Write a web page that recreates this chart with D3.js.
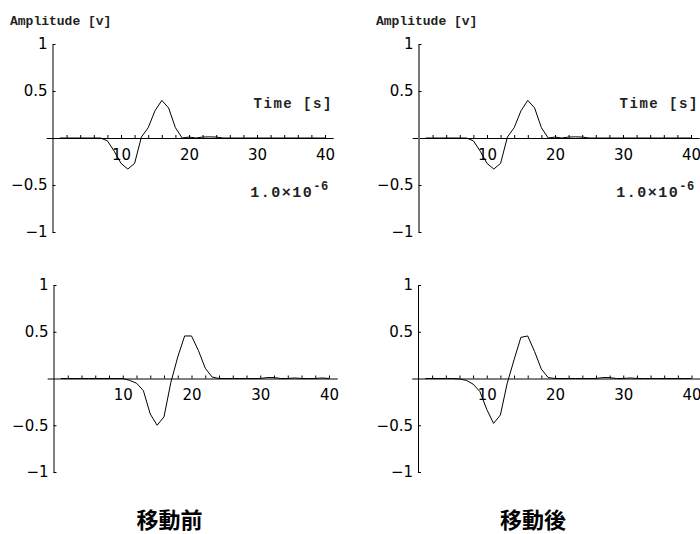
<!DOCTYPE html>
<html>
<head>
<meta charset="utf-8">
<script src="https://cdn.jsdelivr.net/npm/d3@7"></script>
<style>
    body { margin: 0; background: #fff; }
    svg { display: block; }
    .tick text { font-family: "DejaVu Sans", sans-serif; font-size: 15px; fill: #000; }
    .mono { font-family: "Liberation Mono", "DejaVu Sans Mono", monospace; font-weight: bold; fill: #222; }
</style>
</head>
<body>
<div id="chart"></div>
<script>
// Sample times (1e-6 s units) and the three recorded pulses.
const timeSteps = [1, 2, 3, 4, 5, 6, 7, 8, 9, 10, 11, 12, 13, 14, 15, 16, 17, 18, 19, 20,
    21, 22, 23, 24, 25, 26, 27, 28, 29, 30, 31, 32, 33, 34, 35, 36, 37, 38, 39, 40];

const inputPulse = [0, 0, 0, 0, 0, 0, 0, -0.03, -0.14, -0.27, -0.33, -0.27, 0.01, 0.11, 0.29, 0.40,
    0.32, 0.11, 0, 0.01, 0, 0.01, 0.012, 0.01, 0, 0, 0, 0, 0, 0, 0, 0, 0, 0, 0, 0, 0, 0, 0, 0];

const beforeMove = [0, 0, 0, 0, 0, 0, 0, 0, 0, 0, -0.02, -0.05, -0.13, -0.38, -0.50, -0.41, -0.04,
    0.23, 0.455, 0.455, 0.30, 0.11, 0.015, 0, 0, 0, 0, 0, 0, 0, 0.01, 0.01, 0, 0, 0.006, 0, 0, 0, 0.006, 0];

const afterMove = [0, 0, 0, 0, 0, -0.005, -0.02, -0.06, -0.14, -0.33, -0.48, -0.39, -0.05, 0.20, 0.44,
    0.455, 0.29, 0.10, 0.01, 0, 0, 0, 0, 0, 0, 0, 0.01, 0.01, 0, 0, 0.006, 0, 0, 0, 0, 0, 0, 0, 0, 0];

const xTickValues = [2, 4, 6, 8, 10, 12, 14, 16, 18, 20, 22, 24, 26, 28, 30, 32, 34, 36, 38, 40];
const yTickValues = [-1, -0.5, 0.5, 1];
const panelTitles = ["移動前", "移動後"];

const WIDTH = 700;
const HEIGHT = 534;

// Layout of the four panels: left/right columns, top/bottom rows.
const panels = [
    { values: inputPulse, x0: 53, x40: 325, yTop: 44, yBottom: 232, axisColor: "#000", axisWidth: 1, units: true },
    { values: inputPulse, x0: 419, x40: 691, yTop: 44, yBottom: 232, axisColor: "#777", axisWidth: 2, units: true },
    { values: beforeMove, x0: 54, x40: 329, yTop: 285, yBottom: 472, axisColor: "#000", axisWidth: 1, title: panelTitles[0] },
    { values: afterMove, x0: 418.5, x40: 691.5, yTop: 285, yBottom: 472, axisColor: "#000", axisWidth: 1, title: panelTitles[1] }
];

const svg = d3.select("#chart")
    .append("svg")
    .attr("width", WIDTH)
    .attr("height", HEIGHT);

const fmtY = d => d === 0.5 ? "0.5" : d === -0.5 ? "\u22120.5" : d === -1 ? "\u22121" : "1";

panels.forEach(p => {
    const unit = (p.x40 - p.x0) / 40;
    const xScale = d3.scaleLinear()
        .domain([-1, 41.2])
        .range([p.x0 - unit, p.x0 + 41.2 * unit]);

    const yScale = d3.scaleLinear()
        .domain([-1, 1])
        .range([p.yBottom, p.yTop]);

    const g = svg.append("g");

    // Horizontal axis through zero, small ticks pointing up.
    const xAxis = g.append("g")
        .attr("transform", `translate(0, ${yScale(0)})`)
        .call(d3.axisBottom(xScale)
            .tickValues(xTickValues)
            .tickSizeInner(-3)
            .tickSizeOuter(0)
            .tickPadding(11)
            .tickFormat(d => d % 10 === 0 ? d : ""));
    xAxis.select(".domain").attr("stroke", "#000");
    xAxis.selectAll(".tick line").attr("stroke", "#000");

    // Vertical axis at t = 0, ticks pointing right.
    const yAxis = g.append("g")
        .attr("transform", `translate(${xScale(0) - 0.5}, 0)`)
        .call(d3.axisLeft(yScale)
            .tickValues(yTickValues)
            .tickSizeInner(-3)
            .tickSizeOuter(0)
            .tickPadding(5)
            .tickFormat(fmtY));
    yAxis.select(".domain")
        .attr("stroke", p.axisColor)
        .attr("stroke-width", p.axisWidth);
    yAxis.selectAll(".tick line").attr("stroke", "#000");

    const line = d3.line()
        .x((d, i) => xScale(timeSteps[i]))
        .y(d => yScale(d));

    g.append("path")
        .datum(p.values)
        .attr("fill", "none")
        .attr("stroke", "#000")
        .attr("stroke-width", 1)
        .attr("d", line);

    if (p.units) {
        g.append("text")
            .attr("class", "mono")
            .attr("x", xScale(0) - 43)
            .attr("y", 25)
            .style("font-size", "13px")
            .text("Amplitude [v]");

        g.append("text")
            .attr("class", "mono")
            .attr("x", xScale(29.5))
            .attr("y", 108)
            .style("font-size", "14px")
            .style("letter-spacing", "1.5px")
            .text("Time [s]");

        const exp = g.append("text")
            .attr("class", "mono")
            .attr("x", xScale(29))
            .attr("y", 197)
            .style("font-size", "15px")
            .style("letter-spacing", "1.5px");
        exp.append("tspan").text("1.0\u00d710");
        exp.append("tspan")
            .attr("dy", -7)
            .style("font-size", "12px")
            .style("letter-spacing", "0.5px")
            .text("-6");
    }

    if (p.title) {
        g.append("text")
            .attr("x", (p.x0 + p.x40) / 2 - 22)
            .attr("y", 528)
            .attr("text-anchor", "middle")
            .style("font-family", "'Noto Sans CJK JP', sans-serif")
            .style("font-size", "22px")
            .style("font-weight", "bold")
            .text(p.title);
    }
});
</script>
</body>
</html>
